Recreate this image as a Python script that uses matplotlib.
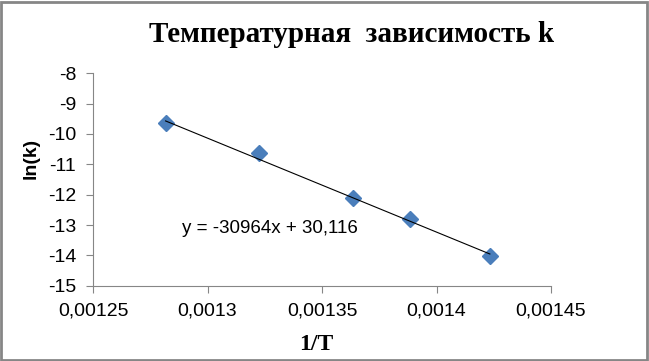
# Temperature dependence of k: ln(k) vs 1/T with linear trendline
import matplotlib
matplotlib.use('Agg')
import matplotlib.pyplot as plt
from matplotlib.patches import Rectangle
from matplotlib.ticker import FuncFormatter

# data
inv_T = [0.0012817, 0.0013224, 0.0013637, 0.0013885, 0.0014233]
ln_k = [-9.65, -10.64, -12.12, -12.81, -14.02]

# trendline from the equation shown on the chart
slope = -30964
intercept = 30.116

x_ticks = [0.00125, 0.0013, 0.00135, 0.0014, 0.00145]
y_ticks = [-15, -14, -13, -12, -11, -10, -9, -8]

plt.rcParams['axes.unicode_minus'] = False
plt.rcParams['font.family'] = ['Liberation Sans', 'DejaVu Sans']

fig = plt.figure(figsize=(6.49, 3.61), dpi=100)
ax = fig.add_axes([0.1433, 0.2086, 0.7057, 0.5884])

grey = '#868686'

# trendline between first and last point
x_line = [inv_T[0], inv_T[-1]]
y_line = [slope * v + intercept for v in x_line]
ax.plot(x_line, y_line, color='black', linewidth=0.8, zorder=3)

# points
ax.plot(inv_T, ln_k, linestyle='none', marker='D', markersize=8.5,
        color='#4A7EBB', markeredgecolor='#4A7EBB', zorder=2)

ax.set_xlim(0.00125, 0.00145)
ax.set_ylim(-15, -8)
ax.set_xticks(x_ticks)
ax.set_yticks(y_ticks)
ax.xaxis.set_major_formatter(FuncFormatter(lambda v, p: ('%g' % v).replace('.', ',')))
ax.yaxis.set_major_formatter(FuncFormatter(lambda v, p: '%d' % v))

for s in ['top', 'right']:
    ax.spines[s].set_visible(False)
for s in ['left', 'bottom']:
    ax.spines[s].set_color(grey)
    ax.spines[s].set_linewidth(0.8)
ax.tick_params(axis='both', colors=grey, length=5, width=0.8, labelcolor='black',
               labelsize=14)
ax.tick_params(axis='y', pad=7)
ax.tick_params(axis='x', pad=7)

# equation label
ax.text(0.001289, -13.1, 'y = -30964x + 30,116', fontsize=13.5, ha='left', va='center')

# title and axis labels
fig.text(0.541, 0.885, 'Температурная  зависимость k', fontsize=21, fontweight='bold',
         family='Liberation Serif', ha='center', va='baseline')
fig.text(0.048, 0.562, 'ln(k)', fontsize=14, fontweight='bold', rotation=90,
         ha='center', va='center')
fig.text(0.488, 0.030, '1/T', fontsize=17, fontweight='bold', family='Liberation Serif',
         ha='center', va='baseline')

# chart border
fig.patches.append(Rectangle((1.0 / 649, 1.5 / 361), 646.0 / 649, 357.5 / 361,
                             transform=fig.transFigure, fill=False,
                             edgecolor=grey, linewidth=2))

fig.savefig('out.png', dpi=100)
